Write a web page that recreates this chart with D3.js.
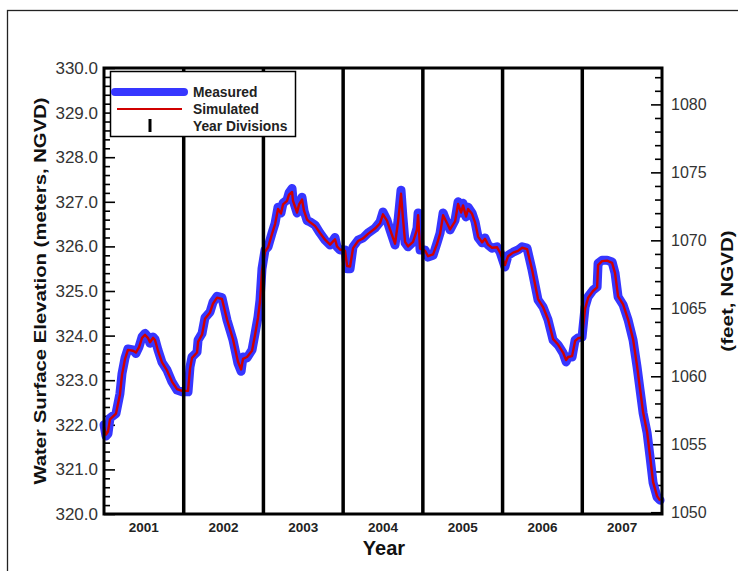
<!DOCTYPE html>
<html>
<head>
<meta charset="utf-8">
<script src="https://cdn.jsdelivr.net/npm/d3@7"></script>
<style>
  body { margin: 0; background: #fff; }
  svg { display: block; font-family: Arial, "Liberation Sans", sans-serif; }
</style>
</head>
<body>
<svg width="738" height="571"></svg>
<script>
// decimal years
const years = [
  2001.000, 2001.025, 2001.050, 2001.075, 2001.150, 2001.200, 2001.226, 2001.264, 2001.300, 2001.364,
  2001.400, 2001.440, 2001.477, 2001.514, 2001.550, 2001.577, 2001.615, 2001.640, 2001.677, 2001.728,
  2001.790, 2001.853, 2001.916, 2001.979, 2002.054, 2002.079, 2002.104, 2002.167, 2002.180, 2002.230,
  2002.267, 2002.330, 2002.368, 2002.418, 2002.480, 2002.543, 2002.618, 2002.680, 2002.720, 2002.744,
  2002.794, 2002.857, 2002.895, 2002.932, 2002.957, 2002.982, 2003.020, 2003.058, 2003.108, 2003.146,
  2003.183, 2003.220, 2003.246, 2003.296, 2003.321, 2003.359, 2003.371, 2003.422, 2003.447, 2003.484,
  2003.509, 2003.547, 2003.585, 2003.647, 2003.710, 2003.773, 2003.836, 2003.898, 2003.923, 2003.960,
  2004.024, 2004.050, 2004.087, 2004.124, 2004.187, 2004.250, 2004.312, 2004.400, 2004.463, 2004.500,
  2004.550, 2004.588, 2004.651, 2004.689, 2004.726, 2004.750, 2004.777, 2004.814, 2004.877, 2004.927,
  2004.940, 2004.965, 2005.028, 2005.065, 2005.128, 2005.178, 2005.216, 2005.254, 2005.304, 2005.341,
  2005.404, 2005.442, 2005.480, 2005.504, 2005.542, 2005.567, 2005.617, 2005.655, 2005.693, 2005.743,
  2005.780, 2005.818, 2005.868, 2005.931, 2005.969, 2006.030, 2006.069, 2006.132, 2006.194, 2006.245,
  2006.307, 2006.370, 2006.445, 2006.508, 2006.571, 2006.634, 2006.696, 2006.759, 2006.797, 2006.822,
  2006.872, 2006.910, 2006.947, 2006.997, 2007.035, 2007.073, 2007.135, 2007.186, 2007.198, 2007.248,
  2007.311, 2007.374, 2007.411, 2007.449, 2007.512, 2007.575, 2007.637, 2007.687, 2007.725, 2007.763,
  2007.813, 2007.850, 2007.888, 2007.938, 2007.976
];

// water surface elevation, meters NGVD
const measured = [
  322.00, 321.75, 321.80, 322.15, 322.25, 322.70, 323.15, 323.50, 323.70, 323.68,
  323.60, 323.75, 323.97, 324.05, 323.97, 323.83, 323.97, 323.92, 323.68, 323.40,
  323.23, 322.96, 322.78, 322.74, 322.74, 323.30, 323.52, 323.63, 323.90, 324.05,
  324.40, 324.53, 324.75, 324.88, 324.85, 324.35, 323.90, 323.38, 323.20, 323.52,
  323.50, 323.68, 324.05, 324.42, 324.80, 325.50, 325.92, 325.99, 326.30, 326.52,
  326.88, 326.75, 326.97, 327.04, 327.20, 327.30, 327.04, 326.75, 326.97, 327.10,
  326.80, 326.58, 326.55, 326.48, 326.30, 326.14, 326.03, 326.20, 325.99, 325.92,
  325.92, 325.50, 325.50, 325.99, 326.14, 326.19, 326.30, 326.41, 326.55, 326.77,
  326.59, 326.37, 326.03, 326.59, 327.26, 326.66, 326.08, 325.99, 326.10, 326.41,
  326.75, 325.92, 325.92, 325.76, 325.80, 326.08, 326.30, 326.75, 326.52, 326.37,
  326.59, 327.00, 326.75, 326.97, 326.66, 326.88, 326.75, 326.55, 326.20, 326.08,
  326.19, 326.03, 325.96, 325.99, 325.87, 325.54, 325.80, 325.87, 325.92, 325.99,
  325.96, 325.47, 324.80, 324.64, 324.35, 323.90, 323.79, 323.61, 323.41, 323.52,
  323.52, 323.90, 323.95, 323.97, 324.64, 324.87, 325.02, 325.09, 325.62, 325.69,
  325.69, 325.65, 325.40, 324.87, 324.69, 324.35, 323.90, 323.30, 322.78, 322.26,
  321.82, 321.28, 320.70, 320.38, 320.31
];

const simulated = [
  321.95, 321.78, 321.85, 322.12, 322.25, 322.68, 323.12, 323.48, 323.68, 323.66,
  323.62, 323.74, 323.95, 324.02, 323.95, 323.85, 323.95, 323.90, 323.66, 323.40,
  323.22, 322.97, 322.80, 322.76, 322.76, 323.26, 323.50, 323.62, 323.86, 324.02,
  324.38, 324.52, 324.72, 324.85, 324.82, 324.36, 323.92, 323.42, 323.24, 323.48,
  323.52, 323.66, 324.02, 324.40, 324.76, 325.45, 325.88, 325.98, 326.28, 326.50,
  326.84, 326.74, 326.94, 327.02, 327.16, 327.22, 327.02, 326.76, 326.94, 327.05,
  326.80, 326.60, 326.54, 326.46, 326.30, 326.15, 326.04, 326.16, 326.00, 325.93,
  325.90, 325.56, 325.55, 325.96, 326.12, 326.18, 326.28, 326.40, 326.52, 326.72,
  326.58, 326.38, 326.06, 326.55, 327.18, 326.64, 326.10, 326.00, 326.10, 326.38,
  326.70, 325.95, 325.90, 325.78, 325.82, 326.06, 326.28, 326.70, 326.52, 326.38,
  326.56, 326.95, 326.76, 326.92, 326.67, 326.84, 326.73, 326.54, 326.22, 326.09,
  326.17, 326.04, 325.97, 325.98, 325.86, 325.58, 325.78, 325.86, 325.90, 325.97,
  325.94, 325.48, 324.82, 324.64, 324.36, 323.92, 323.80, 323.62, 323.45, 323.52,
  323.54, 323.88, 323.94, 323.96, 324.60, 324.85, 325.00, 325.08, 325.58, 325.67,
  325.68, 325.63, 325.40, 324.88, 324.70, 324.36, 323.92, 323.32, 322.80, 322.28,
  321.84, 321.30, 320.72, 320.40, 320.30
];

const yearLabels = ["2001", "2002", "2003", "2004", "2005", "2006", "2007"];
const yearDivisions = [2002, 2003, 2004, 2005, 2006, 2007];
const meterTicks = [320, 321, 322, 323, 324, 325, 326, 327, 328, 329, 330];
const feetTicks = [1050, 1055, 1060, 1065, 1070, 1075, 1080];

const svg = d3.select("svg");
const M = { left: 104, right: 662, top: 68, bottom: 514 };

// outer page frame
svg.append("rect")
  .attr("x", 7.5).attr("y", 10.5)
  .attr("width", 760).attr("height", 600)
  .attr("fill", "none").attr("stroke", "#222").attr("stroke-width", 1.3);

const x = d3.scaleLinear().domain([2001, 2008]).range([M.left, M.right]);
const y = d3.scaleLinear().domain([320, 330]).range([M.bottom, M.top]);
const yFeet = d3.scaleLinear().domain([320 / 0.3048, 330 / 0.3048]).range([M.bottom, M.top]);

// minor ticks
const meterMinor = d3.range(320, 330.001, 0.2).filter(v => Math.abs(v - Math.round(v)) > 0.01);
const feetMinor = d3.range(1050, 1083).filter(v => v % 5 !== 0);

svg.append("g")
  .attr("transform", `translate(${M.left},0)`)
  .call(d3.axisLeft(y).tickValues(meterMinor).tickSize(-6).tickFormat(""))
  .call(g => g.select(".domain").remove());

svg.append("g")
  .attr("class", "yl")
  .attr("transform", `translate(${M.left},0)`)
  .call(d3.axisLeft(y).tickValues(meterTicks).tickSize(-11).tickPadding(6).tickFormat(d3.format(".1f")))
  .call(g => g.select(".domain").remove());

svg.append("g")
  .attr("transform", `translate(${M.right},0)`)
  .call(d3.axisRight(yFeet).tickValues(feetMinor).tickSize(-7).tickFormat(""))
  .call(g => g.select(".domain").remove());

svg.append("g")
  .attr("class", "yr")
  .attr("transform", `translate(${M.right},0)`)
  .call(d3.axisRight(yFeet).tickValues(feetTicks).tickSize(-11).tickPadding(9).tickFormat(d3.format("d")))
  .call(g => g.select(".domain").remove());

svg.selectAll(".tick line").attr("stroke", "#000").attr("stroke-width", 1.6);
svg.selectAll(".yl text").attr("font-size", 17).attr("fill", "#333").attr("font-family", "Arial, 'Liberation Sans'");
svg.selectAll(".yr text").attr("font-size", 16).attr("fill", "#333").attr("font-family", "Arial, 'Liberation Sans'");

// series
const line = (vals) => d3.line().x((d, i) => x(years[i])).y(d => y(d))(vals);

svg.append("path")
  .attr("d", line(measured))
  .attr("fill", "none").attr("stroke", "#3636ff")
  .attr("stroke-width", 9).attr("stroke-linejoin", "round").attr("stroke-linecap", "round");

svg.append("path")
  .attr("d", line(simulated))
  .attr("fill", "none").attr("stroke", "#d00000")
  .attr("stroke-width", 2.4).attr("stroke-linejoin", "round");

// year divisions
svg.append("g").selectAll("line")
  .data(yearDivisions)
  .join("line")
  .attr("x1", d => x(d)).attr("x2", d => x(d))
  .attr("y1", M.top).attr("y2", M.bottom)
  .attr("stroke", "#000").attr("stroke-width", 3.5);

// plot frame
svg.append("rect")
  .attr("x", M.left).attr("y", M.top)
  .attr("width", M.right - M.left).attr("height", M.bottom - M.top)
  .attr("fill", "none").attr("stroke", "#000").attr("stroke-width", 3);

// year labels
svg.append("g").selectAll("text")
  .data(yearLabels)
  .join("text")
  .attr("x", d => x(+d + 0.5)).attr("y", 532)
  .attr("text-anchor", "middle")
  .attr("font-size", 13.5).attr("font-weight", "bold").attr("fill", "#222")
  .text(d => d);

svg.append("text")
  .attr("x", 384).attr("y", 555)
  .attr("text-anchor", "middle")
  .attr("font-size", 20).attr("font-weight", "bold").attr("fill", "#111")
  .text("Year");

// axis titles: the original font runs wider, so stretch along the text
svg.append("text")
  .attr("transform", `translate(46,${(M.top + M.bottom) / 2}) rotate(-90) scale(1.27,1)`)
  .attr("text-anchor", "middle")
  .attr("font-size", 16).attr("font-weight", "bold").attr("fill", "#111")
  .text("Water Surface Elevation (meters, NGVD)");

svg.append("text")
  .attr("transform", `translate(733,${(M.top + M.bottom) / 2}) rotate(-90) scale(1.25,1)`)
  .attr("text-anchor", "middle")
  .attr("font-size", 16.5).attr("font-weight", "bold").attr("fill", "#111")
  .text("(feet, NGVD)");

// legend
const lg = svg.append("g");
lg.append("rect")
  .attr("x", 110.5).attr("y", 71.5).attr("width", 185).attr("height", 65)
  .attr("fill", "#fff").attr("stroke", "#000").attr("stroke-width", 1.5);
lg.append("line")
  .attr("x1", 115).attr("x2", 184).attr("y1", 92).attr("y2", 92)
  .attr("stroke", "#3636ff").attr("stroke-width", 8).attr("stroke-linecap", "round");
lg.append("line")
  .attr("x1", 117).attr("x2", 182).attr("y1", 109).attr("y2", 109)
  .attr("stroke", "#d00000").attr("stroke-width", 2);
lg.append("line")
  .attr("x1", 150).attr("x2", 150).attr("y1", 119).attr("y2", 132)
  .attr("stroke", "#000").attr("stroke-width", 3);
const legendText = ["Measured", "Simulated", "Year Divisions"];
lg.selectAll("text")
  .data(legendText)
  .join("text")
  .attr("x", 193).attr("y", (d, i) => 97 + i * 17)
  .attr("font-size", 13.8).attr("font-weight", "bold").attr("fill", "#222")
  .text(d => d);
</script>
</body>
</html>
